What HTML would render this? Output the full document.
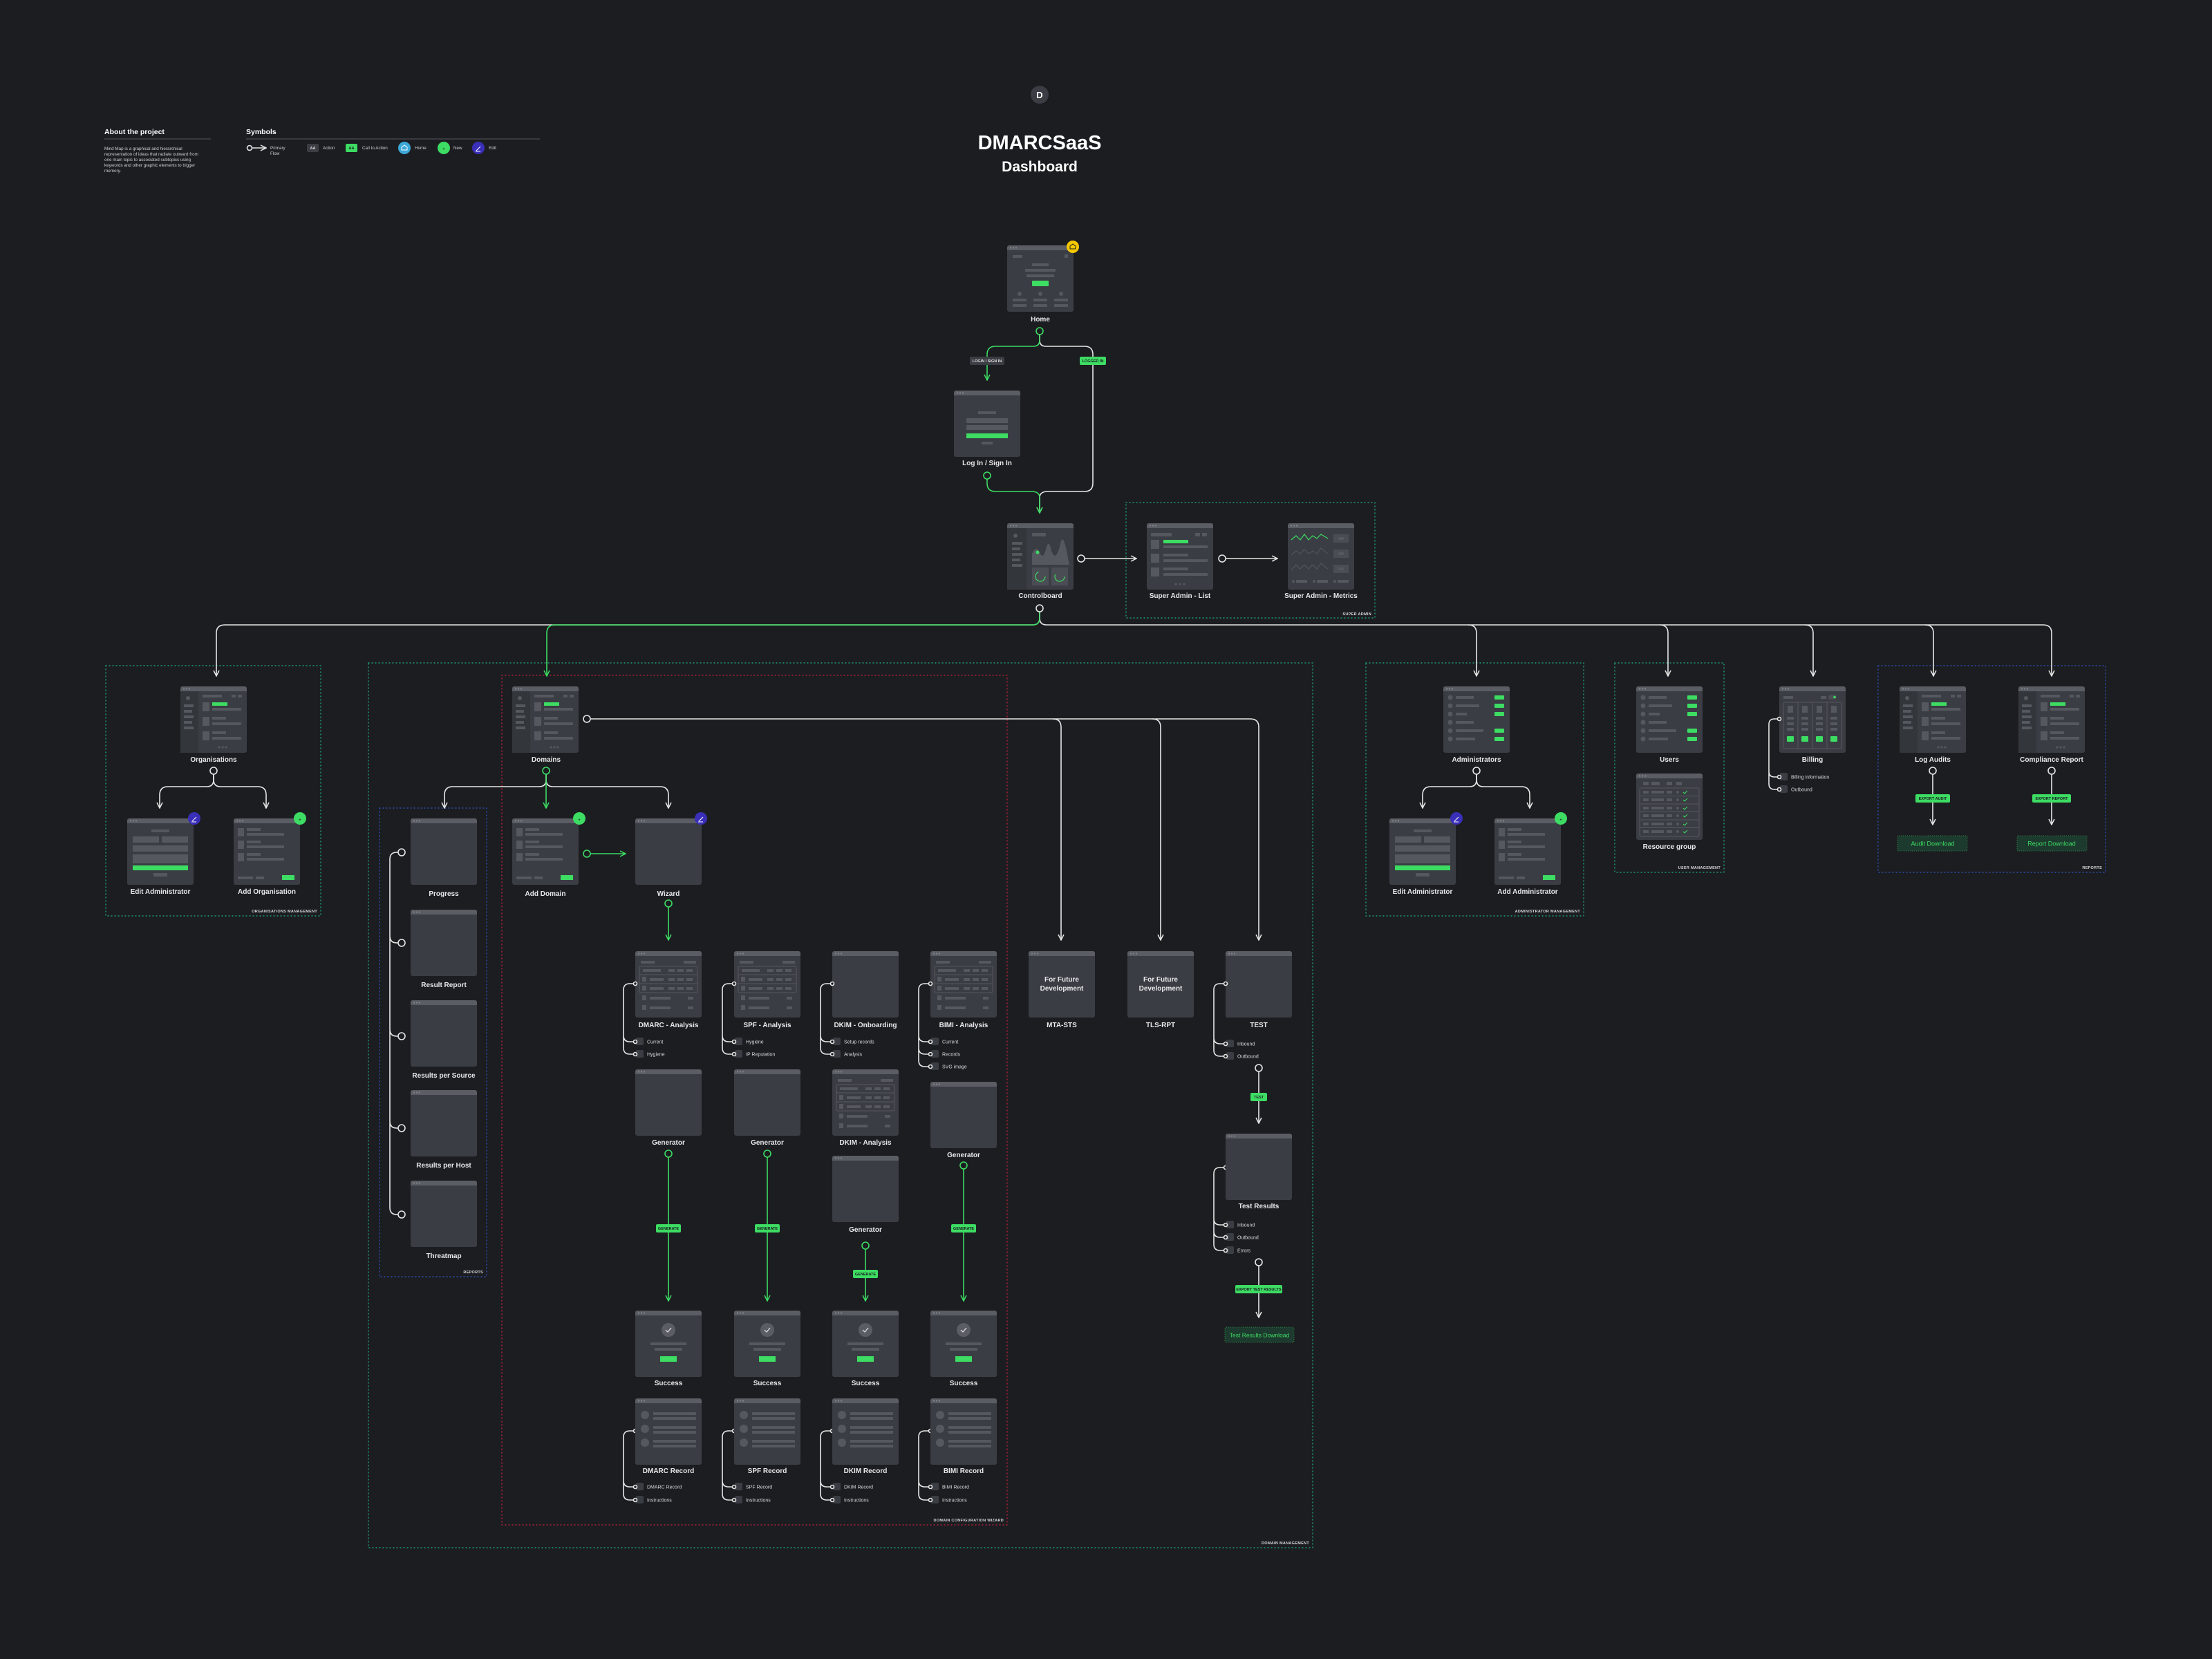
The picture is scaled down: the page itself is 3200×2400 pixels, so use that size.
<!DOCTYPE html>
<html><head><meta charset="utf-8"><style>
html,body{margin:0;padding:0;background:#1c1d21;}
svg{display:block;font-family:"Liberation Sans",sans-serif;}
.l{fill:#e8e8ea;font-size:10px;font-weight:bold;text-anchor:middle;}
.s{fill:#d8d8da;font-size:7px;}
.g{fill:#d8d8da;font-size:5.5px;font-weight:bold;text-anchor:end;letter-spacing:.3px;}
.c{font-size:5.5px;font-weight:bold;text-anchor:middle;}
.w{fill:none;stroke:#e6e6e6;stroke-width:1.6;}
.gr{fill:none;stroke:#3ddc63;stroke-width:1.6;}
.o{fill:#1c1d21;stroke:#e6e6e6;stroke-width:1.6;}
.og{fill:#1c1d21;stroke:#3ddc63;stroke-width:1.6;}
.d1{fill:none;stroke:#1f9a7a;stroke-width:1.4;stroke-dasharray:1 4;stroke-linecap:round;}
.d2{fill:none;stroke:#b0203a;stroke-width:1.4;stroke-dasharray:1 4;stroke-linecap:round;}
.d3{fill:none;stroke:#2b4fb0;stroke-width:1.4;stroke-dasharray:1 4;stroke-linecap:round;}
.b{fill:#55585e}.gg{fill:#3ddc63}.sq{fill:#3a3d43}
</style></head><body>
<svg width="3200" height="2400" viewBox="0 0 3200 2400" xmlns="http://www.w3.org/2000/svg">
<defs>
<marker id="aw" viewBox="0 0 10 10" refX="9" refY="5" markerWidth="10" markerHeight="10" markerUnits="userSpaceOnUse" orient="auto"><path d="M1,1 L9,5 L1,9" fill="none" stroke="#e6e6e6" stroke-width="1.5"/></marker>
<marker id="ag" viewBox="0 0 10 10" refX="9" refY="5" markerWidth="10" markerHeight="10" markerUnits="userSpaceOnUse" orient="auto"><path d="M1,1 L9,5 L1,9" fill="none" stroke="#3ddc63" stroke-width="1.5"/></marker>
<g id="win"><rect width="96" height="96" rx="3" fill="#3a3d43"/><path d="M0,3a3,3 0 0 1 3,-3h90a3,3 0 0 1 3,3v4h-96z" fill="#5a5d64"/><circle cx="5" cy="3.5" r="1.1" fill="#85888e"/><circle cx="9" cy="3.5" r="1.1" fill="#85888e"/><circle cx="13" cy="3.5" r="1.1" fill="#85888e"/></g>
<g id="side"><use href="#win"/><rect x="0" y="7" width="26" height="89" fill="#33363a"/><circle cx="11" cy="17" r="3" class="b"/><rect x="5" y="26" width="14" height="4" class="b"/><rect x="5" y="34" width="12" height="4" class="b"/><rect x="5" y="42" width="14" height="4" class="b"/><rect x="5" y="50" width="12" height="4" class="b"/><rect x="5" y="58" width="14" height="4" class="b"/><rect x="32" y="12" width="28" height="4" class="b"/><rect x="74" y="12" width="6" height="4" class="b"/><rect x="83" y="12" width="6" height="4" class="b"/><rect x="32" y="23" width="10" height="13" class="b"/><rect x="46" y="23" width="22" height="5" class="gg"/><rect x="46" y="31" width="42" height="4" class="b"/><rect x="32" y="44" width="10" height="13" class="b"/><rect x="46" y="44" width="20" height="4" class="b"/><rect x="46" y="52" width="42" height="4" class="b"/><rect x="32" y="65" width="10" height="13" class="b"/><rect x="46" y="65" width="20" height="4" class="b"/><rect x="46" y="73" width="42" height="4" class="b"/><circle cx="56" cy="88" r="1.6" class="b"/><circle cx="61" cy="88" r="1.6" class="b"/><circle cx="66" cy="88" r="1.6" class="b"/></g>
<g id="tbl"><use href="#win"/><rect x="8" y="14" width="20" height="4" class="b"/><rect x="70" y="14" width="18" height="4" class="b"/><rect x="6" y="22" width="84" height="38" rx="2" fill="none" stroke="#55585e"/><line x1="6" y1="34" x2="90" y2="34" stroke="#55585e"/><line x1="6" y1="47" x2="90" y2="47" stroke="#55585e"/><rect x="11" y="26" width="26" height="4" class="b"/><rect x="48" y="26" width="9" height="4" class="b"/><rect x="61" y="26" width="9" height="4" class="b"/><rect x="74" y="26" width="9" height="4" class="b"/><rect x="10" y="37" width="6" height="7" class="b"/><rect x="21" y="39" width="20" height="4" class="b"/><rect x="48" y="39" width="9" height="4" class="b"/><rect x="61" y="39" width="9" height="4" class="b"/><rect x="74" y="39" width="9" height="4" class="b"/><rect x="10" y="50" width="6" height="7" class="b"/><rect x="21" y="52" width="20" height="4" class="b"/><rect x="48" y="52" width="9" height="4" class="b"/><rect x="61" y="52" width="9" height="4" class="b"/><rect x="74" y="52" width="9" height="4" class="b"/><rect x="10" y="64" width="6" height="7" class="b"/><rect x="21" y="66" width="30" height="4" class="b"/><rect x="76" y="66" width="8" height="4" class="b"/><rect x="10" y="78" width="6" height="7" class="b"/><rect x="21" y="80" width="30" height="4" class="b"/><rect x="76" y="80" width="8" height="4" class="b"/></g>
<g id="list"><use href="#win"/><g class="b"><circle cx="10" cy="16" r="3.5"/><circle cx="10" cy="28" r="3.5"/><circle cx="10" cy="40" r="3.5"/><circle cx="10" cy="52" r="3.5"/><circle cx="10" cy="64" r="3.5"/><circle cx="10" cy="76" r="3.5"/><rect x="18" y="14" width="26" height="4"/><rect x="18" y="26" width="34" height="4"/><rect x="18" y="38" width="16" height="4"/><rect x="18" y="50" width="26" height="4"/><rect x="18" y="62" width="40" height="4"/><rect x="18" y="74" width="28" height="4"/></g><g class="gg"><rect x="74" y="13" width="14" height="6" rx="1"/><rect x="74" y="25" width="14" height="6" rx="1"/><rect x="74" y="37" width="14" height="6" rx="1"/><rect x="74" y="61" width="14" height="6" rx="1"/><rect x="74" y="73" width="14" height="6" rx="1"/></g></g>
<g id="form"><use href="#win"/><g class="b"><rect x="35" y="16" width="26" height="4"/><rect x="8" y="26" width="38" height="9"/><rect x="50" y="26" width="38" height="9"/><rect x="8" y="39" width="80" height="9"/><rect x="8" y="52" width="80" height="13"/><rect x="38" y="79" width="20" height="5"/></g><rect x="8" y="68" width="80" height="7" class="gg"/></g>
<g id="add"><use href="#win"/><g class="b"><rect x="6" y="14" width="9" height="12"/><rect x="19" y="14" width="20" height="4"/><rect x="19" y="21" width="54" height="4"/><rect x="6" y="32" width="9" height="12"/><rect x="19" y="32" width="20" height="4"/><rect x="19" y="39" width="54" height="4"/><rect x="6" y="50" width="9" height="12"/><rect x="19" y="50" width="20" height="4"/><rect x="19" y="57" width="54" height="4"/><rect x="6" y="84" width="22" height="4"/><rect x="32" y="84" width="12" height="4"/></g><rect x="70" y="82" width="18" height="7" class="gg"/></g>
<g id="succ"><use href="#win"/><circle cx="48" cy="28" r="10" fill="#5a5d64"/><path d="M44,28 l3,3 l5,-6" fill="none" stroke="#e6e6e6" stroke-width="1.2"/><rect x="22" y="46" width="52" height="4" class="b"/><rect x="28" y="54" width="40" height="4" class="b"/><rect x="36" y="66" width="24" height="8" class="gg"/></g>
<g id="rec"><use href="#win"/><g class="b"><circle cx="14" cy="24" r="6"/><rect x="26" y="20" width="62" height="4"/><rect x="26" y="27" width="62" height="4"/><circle cx="14" cy="44" r="6"/><rect x="26" y="40" width="62" height="4"/><rect x="26" y="47" width="62" height="4"/><circle cx="14" cy="64" r="6"/><rect x="26" y="60" width="62" height="4"/><rect x="26" y="67" width="62" height="4"/></g></g>
</defs>
<rect width="3200" height="2400" fill="#1c1d21"/>

<!-- header -->
<text x="151" y="194" fill="#fff" font-size="10.5" font-weight="bold">About the project</text>
<line x1="151" y1="201" x2="305" y2="201" stroke="#55585e"/>
<g fill="#cfcfd2" font-size="6.3"><text x="151" y="217">Mind Map is a graphical and hierarchical</text><text x="151" y="225">representation of ideas that radiate outward from</text><text x="151" y="233">one main topic to associated subtopics using</text><text x="151" y="241">keywords and other graphic elements to trigger</text><text x="151" y="249">memory.</text></g>
<text x="356" y="194" fill="#fff" font-size="10.5" font-weight="bold">Symbols</text>
<line x1="356" y1="201" x2="781" y2="201" stroke="#55585e"/>
<circle cx="361" cy="214" r="3.5" class="o"/><path d="M365,214 H385" class="w" marker-end="url(#aw)"/>
<text x="391" y="216" fill="#cfcfd2" font-size="6.3">Primary</text><text x="391" y="224" fill="#cfcfd2" font-size="6.3">Flow</text>
<rect x="444" y="208" width="17" height="12" rx="2" fill="#3a3d43"/><text x="452.5" y="216" class="c" fill="#ddd">AA</text><text x="467" y="216" fill="#cfcfd2" font-size="6.3">Action</text>
<rect x="500" y="208" width="17" height="12" rx="2" fill="#3ddc63"/><text x="508.5" y="216" class="c" fill="#1c1d21">AA</text><text x="524" y="216" fill="#cfcfd2" font-size="6.3">Call to Action</text>
<circle cx="585" cy="214" r="9" fill="#3ba8d8"/><path d="M581,217 v-4 l4,-3 l4,3 v4z" fill="none" stroke="#fff" stroke-width="1"/><text x="600" y="216" fill="#cfcfd2" font-size="6.3">Home</text>
<circle cx="642" cy="214" r="9" fill="#3ddc63"/><text x="642" y="217" class="c" fill="#1c1d21" font-size="9">+</text><text x="656" y="216" fill="#cfcfd2" font-size="6.3">New</text>
<circle cx="692" cy="214" r="9" fill="#3a2fb8"/><path d="M689,218 l6,-6 M688,219 h7" stroke="#fff" stroke-width="1"/><text x="707" y="216" fill="#cfcfd2" font-size="6.3">Edit</text>

<circle cx="1504" cy="137" r="13" fill="#3a3d43"/><text x="1504" y="142" fill="#fff" font-size="13" font-weight="bold" text-anchor="middle">D</text>
<text x="1504" y="216" fill="#fff" font-size="29" font-weight="bold" text-anchor="middle">DMARCSaaS</text>
<text x="1504" y="248" fill="#fff" font-size="21" font-weight="bold" text-anchor="middle">Dashboard</text>

<!-- dotted groups -->
<rect x="1629" y="727" width="360" height="167" class="d1"/><text x="1984" y="890" class="g">SUPER ADMIN</text>
<rect x="153" y="963" width="311" height="362" class="d1"/><text x="459" y="1320" class="g">ORGANISATIONS MANAGEMENT</text>
<rect x="533" y="959" width="1366" height="1280" class="d1"/><text x="1894" y="2234" class="g">DOMAIN MANAGEMENT</text>
<rect x="726" y="977" width="731" height="1229" class="d2"/><text x="1452" y="2201" class="g">DOMAIN CONFIGURATION WIZARD</text>
<rect x="549" y="1169" width="155" height="678" class="d3"/><text x="699" y="1842" class="g">REPORTS</text>
<rect x="1976" y="959" width="315" height="366" class="d1"/><text x="2286" y="1320" class="g">ADMINISTRATOR MANAGEMENT</text>
<rect x="2336" y="959" width="158" height="303" class="d1"/><text x="2489" y="1257" class="g">USER MANAGEMENT</text>
<rect x="2717" y="963" width="329" height="299" class="d3"/><text x="3041" y="1257" class="g">REPORTS</text>

<!-- connectors top -->
<path d="M1504,484 V492 Q1504,501 1513,501 H1569 Q1581,501 1581,513 V699 Q1581,711 1569,711 H1516 Q1504,711 1504,720 V742" class="w" marker-end="url(#aw)"/>
<path d="M1504,484 V492 Q1504,501 1495,501 H1440 Q1428,501 1428,513 V550" class="gr" marker-end="url(#ag)"/>
<path d="M1428,693 V699 Q1428,711 1440,711 H1492 Q1504,711 1504,720 V742" class="gr" marker-end="url(#ag)"/>
<circle cx="1504" cy="479" r="5" class="og"/><circle cx="1428" cy="688" r="5" class="og"/>
<rect x="1403" y="516" width="50" height="12" rx="2" fill="#3a3d43"/><text x="1428" y="524" class="c" fill="#ddd">LOGIN / SIGN IN</text>
<rect x="1562" y="516" width="38" height="12" rx="2" fill="#3ddc63"/><text x="1581" y="524" class="c" fill="#1c1d21">LOGGED IN</text>
<path d="M1569,808 H1644" class="w" marker-end="url(#aw)"/><circle cx="1564" cy="808" r="5" class="o"/>
<path d="M1773,808 H1848" class="w" marker-end="url(#aw)"/><circle cx="1768" cy="808" r="5" class="o"/>

<!-- bus -->
<path d="M1504,885 V894 Q1504,904 1494,904 H325 Q313,904 313,916 V978" class="w" marker-end="url(#aw)"/>
<path d="M1504,885 V894 Q1504,904 1514,904 H2956 Q2968,904 2968,916 V978" class="w" marker-end="url(#aw)"/>
<path d="M2124,904 Q2136,904 2136,916 V978" class="w" marker-end="url(#aw)"/>
<path d="M2401,904 Q2413,904 2413,916 V978" class="w" marker-end="url(#aw)"/>
<path d="M2611,904 Q2623,904 2623,916 V978" class="w" marker-end="url(#aw)"/>
<path d="M2785,904 Q2797,904 2797,916 V978" class="w" marker-end="url(#aw)"/>
<path d="M1504,885 V894 Q1504,904 1494,904 H803 Q791,904 791,916 V978" class="gr" marker-end="url(#ag)"/>
<circle cx="1504" cy="880" r="5" class="o"/>

<!-- tier 1 nodes -->
<use href="#win" x="1457" y="355"/>
<g transform="translate(1457,355)"><g class="b"><rect x="8" y="14" width="14" height="4"/><rect x="83" y="13" width="5" height="5"/><rect x="36" y="26" width="24" height="4"/><rect x="26" y="34" width="44" height="4"/><rect x="28" y="42" width="40" height="4"/><circle cx="18" cy="70" r="3"/><circle cx="48" cy="70" r="3"/><circle cx="78" cy="70" r="3"/><rect x="8" y="77" width="20" height="4"/><rect x="38" y="77" width="20" height="4"/><rect x="68" y="77" width="20" height="4"/><rect x="8" y="85" width="20" height="4"/><rect x="38" y="85" width="20" height="4"/><rect x="68" y="85" width="20" height="4"/></g><rect x="36" y="51" width="24" height="8" rx="1" class="gg"/></g>
<circle cx="1552" cy="357" r="9" fill="#f5c800"/><path d="M1548,360 v-4 l4,-3 l4,3 v4z" fill="none" stroke="#1c1d21" stroke-width="1"/>
<text x="1505" y="465" class="l">Home</text>
<use href="#win" x="1380" y="565"/>
<g transform="translate(1380,565)"><g class="b"><rect x="35" y="30" width="26" height="4"/><rect x="18" y="40" width="60" height="7"/><rect x="18" y="50" width="60" height="7"/><rect x="40" y="74" width="16" height="4"/></g><rect x="18" y="62" width="60" height="7" class="gg"/></g>
<text x="1428" y="673" class="l">Log In / Sign In</text>
<use href="#win" x="1457" y="757"/>
<g transform="translate(1457,757)"><rect x="0" y="7" width="28" height="89" fill="#33363a"/><g class="b"><circle cx="12" cy="18" r="3"/><rect x="7" y="27" width="15" height="4"/><rect x="7" y="35" width="12" height="4"/><rect x="7" y="43" width="15" height="4"/><rect x="7" y="51" width="12" height="4"/><rect x="7" y="59" width="15" height="4"/><rect x="36" y="14" width="20" height="5"/><path d="M36,60 L36,44 Q42,30 48,44 Q52,52 56,38 Q60,20 64,40 Q70,56 76,34 Q80,10 86,40 L90,60z"/></g><circle cx="44" cy="42" r="2.5" class="gg"/><rect x="36" y="64" width="24" height="26" fill="#4a4d53"/><rect x="64" y="64" width="24" height="26" fill="#4a4d53"/><circle cx="48" cy="77" r="7" fill="none" stroke="#3ddc63" stroke-width="1.2" stroke-dasharray="30 14"/><circle cx="76" cy="77" r="7" fill="none" stroke="#3ddc63" stroke-width="1.2" stroke-dasharray="25 19"/></g>
<text x="1505" y="865" class="l">Controlboard</text>
<use href="#win" x="1659" y="757"/>
<g transform="translate(1659,757)"><g class="b"><rect x="6" y="14" width="30" height="5"/><rect x="70" y="14" width="7" height="5"/><rect x="80" y="14" width="7" height="5"/><rect x="6" y="24" width="12" height="13"/><rect x="24" y="32" width="64" height="4"/><rect x="6" y="44" width="12" height="13"/><rect x="24" y="44" width="36" height="4"/><rect x="24" y="52" width="64" height="4"/><rect x="6" y="64" width="12" height="13"/><rect x="24" y="64" width="36" height="4"/><rect x="24" y="72" width="64" height="4"/><circle cx="42" cy="88" r="1.6"/><circle cx="48" cy="88" r="1.6"/><circle cx="54" cy="88" r="1.6"/></g><rect x="24" y="24" width="36" height="5" class="gg"/></g>
<text x="1707" y="865" class="l" font-weight="normal">Super Admin - List</text>
<use href="#win" x="1863" y="757"/>
<g transform="translate(1863,757)"><polyline points="5,24 12,18 18,24 24,16 30,24 36,18 42,22 48,16 58,22" fill="none" stroke="#3ddc63" stroke-width="1.2"/><polyline points="5,46 12,40 18,44 24,38 30,44 36,40 42,44 48,36 58,44" fill="none" stroke="#55585e" stroke-width="1"/><polyline points="5,68 12,60 18,66 24,60 30,66 36,60 42,66 48,58 58,66" fill="none" stroke="#55585e" stroke-width="1"/><rect x="66" y="16" width="22" height="12" fill="#4a4d53"/><rect x="66" y="38" width="22" height="12" fill="#4a4d53"/><rect x="66" y="60" width="22" height="12" fill="#4a4d53"/><g class="b"><rect x="73" y="20" width="8" height="4"/><rect x="73" y="42" width="8" height="4"/><rect x="73" y="64" width="8" height="4"/><circle cx="8" cy="84" r="2"/><rect x="12" y="82" width="16" height="4"/><circle cx="38" cy="84" r="2"/><rect x="42" y="82" width="16" height="4"/><circle cx="68" cy="84" r="2"/><rect x="72" y="82" width="16" height="4"/></g></g>
<text x="1911" y="865" class="l" font-weight="normal">Super Admin - Metrics</text>

<!-- tier 2 -->
<use href="#side" x="261" y="993"/><text x="309" y="1102" class="l" font-weight="normal">Organisations</text>
<use href="#side" x="741" y="993"/><text x="790" y="1102" class="l" font-weight="normal">Domains</text>
<use href="#list" x="2088" y="993"/><text x="2136" y="1102" class="l" font-weight="normal">Administrators</text>
<use href="#list" x="2367" y="993"/><text x="2415" y="1102" class="l" font-weight="normal">Users</text>
<use href="#win" x="2574" y="993"/>
<g transform="translate(2574,993)"><g class="b"><rect x="6" y="14" width="14" height="4"/><rect x="60" y="14" width="8" height="4"/></g><rect x="71" y="12" width="12" height="7" rx="3.5" fill="#4a4d53"/><circle cx="80" cy="15.5" r="1.8" class="gg"/><g fill="none" stroke="#55585e"><rect x="6" y="23" width="84" height="67" rx="2"/><line x1="27" y1="23" x2="27" y2="90"/><line x1="48" y1="23" x2="48" y2="90"/><line x1="69" y1="23" x2="69" y2="90"/></g><g class="b"><rect x="12" y="28" width="8" height="10"/><rect x="33" y="28" width="8" height="10"/><rect x="54" y="28" width="8" height="10"/><rect x="75" y="28" width="8" height="10"/><rect x="11" y="44" width="10" height="4"/><rect x="32" y="44" width="10" height="4"/><rect x="53" y="44" width="10" height="4"/><rect x="74" y="44" width="10" height="4"/><rect x="11" y="52" width="10" height="4"/><rect x="32" y="52" width="10" height="4"/><rect x="53" y="52" width="10" height="4"/><rect x="74" y="52" width="10" height="4"/><rect x="11" y="60" width="10" height="4"/><rect x="32" y="60" width="10" height="4"/><rect x="53" y="60" width="10" height="4"/><rect x="74" y="60" width="10" height="4"/></g><g class="gg"><rect x="11" y="72" width="10" height="8" rx="1"/><rect x="32" y="72" width="10" height="8" rx="1"/><rect x="53" y="72" width="10" height="8" rx="1"/><rect x="74" y="72" width="10" height="8" rx="1"/></g></g>
<text x="2622" y="1102" class="l" font-weight="normal">Billing</text>
<use href="#side" x="2748" y="993"/><text x="2796" y="1102" class="l" font-weight="normal">Log Audits</text>
<use href="#side" x="2920" y="993"/><text x="2968" y="1102" class="l" font-weight="normal">Compliance Report</text>
<use href="#win" x="2367" y="1119"/>
<g transform="translate(2367,1119)"><g class="b"><rect x="10" y="12" width="8" height="5"/><rect x="22" y="12" width="12" height="5"/><rect x="44" y="12" width="8" height="5"/><rect x="58" y="12" width="8" height="5"/></g><rect x="5" y="21" width="86" height="70" rx="2" fill="none" stroke="#55585e"/><g stroke="#55585e"><line x1="5" y1="32.5" x2="91" y2="32.5"/><line x1="5" y1="44" x2="91" y2="44"/><line x1="5" y1="55.5" x2="91" y2="55.5"/><line x1="5" y1="67" x2="91" y2="67"/><line x1="5" y1="78.5" x2="91" y2="78.5"/></g>
<g class="b"><rect x="10" y="25" width="8" height="4"/><rect x="22" y="25" width="18" height="4"/><rect x="44" y="25" width="8" height="4"/><circle cx="60" cy="27" r="2"/><rect x="10" y="36" width="8" height="4"/><rect x="22" y="36" width="18" height="4"/><rect x="44" y="36" width="8" height="4"/><circle cx="60" cy="38" r="2"/><rect x="10" y="48" width="8" height="4"/><rect x="22" y="48" width="18" height="4"/><rect x="44" y="48" width="8" height="4"/><circle cx="60" cy="50" r="2"/><rect x="10" y="59" width="8" height="4"/><rect x="22" y="59" width="18" height="4"/><rect x="44" y="59" width="8" height="4"/><circle cx="60" cy="61" r="2"/><rect x="10" y="71" width="8" height="4"/><rect x="22" y="71" width="18" height="4"/><rect x="44" y="71" width="8" height="4"/><circle cx="60" cy="73" r="2"/><rect x="10" y="82" width="8" height="4"/><rect x="22" y="82" width="18" height="4"/><rect x="44" y="82" width="8" height="4"/><circle cx="60" cy="84" r="2"/></g>
<g fill="none" stroke="#3ddc63" stroke-width="1"><path d="M68,27 l2,2 l4,-4"/><path d="M68,38 l2,2 l4,-4"/><path d="M68,50 l2,2 l4,-4"/><path d="M68,61 l2,2 l4,-4"/><path d="M68,73 l2,2 l4,-4"/><path d="M68,84 l2,2 l4,-4"/></g></g>
<text x="2415" y="1228" class="l" font-weight="normal">Resource group</text>

<!-- org / admin children -->
<path d="M309,1120 V1128 Q309,1138 299,1138 H243 Q231,1138 231,1150 V1169" class="w" marker-end="url(#aw)"/>
<path d="M309,1120 V1128 Q309,1138 319,1138 H373 Q385,1138 385,1150 V1169" class="w" marker-end="url(#aw)"/>
<circle cx="309" cy="1115" r="5" class="o"/>
<use href="#form" x="184" y="1184"/><text x="232" y="1293" class="l" font-weight="normal">Edit Administrator</text>
<use href="#add" x="338" y="1184"/><text x="386" y="1293" class="l" font-weight="normal">Add Organisation</text>
<circle cx="281" cy="1184" r="9" fill="#3a2fb8"/><path d="M278,1188 l6,-6 M277,1189 h7" stroke="#fff" stroke-width="1"/>
<circle cx="434" cy="1184" r="9" fill="#3ddc63"/><text x="434" y="1187.5" class="c" fill="#1c1d21" font-size="9">+</text>
<path d="M2136,1120 V1128 Q2136,1138 2126,1138 H2070 Q2058,1138 2058,1150 V1169" class="w" marker-end="url(#aw)"/>
<path d="M2136,1120 V1128 Q2136,1138 2146,1138 H2201 Q2213,1138 2213,1150 V1169" class="w" marker-end="url(#aw)"/>
<circle cx="2136" cy="1115" r="5" class="o"/>
<use href="#form" x="2010" y="1184"/><text x="2058" y="1293" class="l" font-weight="normal">Edit Administrator</text>
<use href="#add" x="2162" y="1184"/><text x="2210" y="1293" class="l" font-weight="normal">Add Administrator</text>
<circle cx="2107" cy="1184" r="9" fill="#3a2fb8"/><path d="M2104,1188 l6,-6 M2103,1189 h7" stroke="#fff" stroke-width="1"/>
<circle cx="2258" cy="1184" r="9" fill="#3ddc63"/><text x="2258" y="1187.5" class="c" fill="#1c1d21" font-size="9">+</text>

<!-- billing subs -->
<path d="M2574,1040 H2567 Q2559,1040 2559,1048 V1134 Q2559,1142 2567,1142 H2574 M2559,1116 Q2559,1124 2567,1124 H2574" class="w" stroke-width="1.3"/>
<rect x="2575" y="1118" width="11" height="11" rx="2" class="sq"/><rect x="2575" y="1136" width="11" height="11" rx="2" class="sq"/>
<circle cx="2574" cy="1040" r="2.5" class="o"/><circle cx="2574" cy="1124" r="2.5" class="o"/><circle cx="2574" cy="1142" r="2.5" class="o"/>
<text x="2591" y="1126.5" class="s">Billing information</text><text x="2591" y="1144.5" class="s">Outbound</text>

<!-- exports -->
<path d="M2796,1120 V1193" class="w" marker-end="url(#aw)"/><circle cx="2796" cy="1115" r="5" class="o"/>
<rect x="2771" y="1149" width="50" height="12" rx="2" fill="#3ddc63"/><text x="2796" y="1157" class="c" fill="#1c1d21">EXPORT AUDIT</text>
<rect x="2745" y="1209" width="101" height="22" rx="2" fill="#1d3a2e" stroke="#2e8a4a" stroke-dasharray="1 2"/><text x="2796" y="1223.5" fill="#3ddc63" font-size="9" text-anchor="middle">Audit Download</text>
<path d="M2968,1120 V1193" class="w" marker-end="url(#aw)"/><circle cx="2968" cy="1115" r="5" class="o"/>
<rect x="2940" y="1149" width="56" height="12" rx="2" fill="#3ddc63"/><text x="2968" y="1157" class="c" fill="#1c1d21">EXPORT REPORT</text>
<rect x="2918" y="1209" width="101" height="22" rx="2" fill="#1d3a2e" stroke="#2e8a4a" stroke-dasharray="1 2"/><text x="2968" y="1223.5" fill="#3ddc63" font-size="9" text-anchor="middle">Report Download</text>

<!-- domain children -->
<path d="M790,1120 V1128 Q790,1138 780,1138 H655 Q643,1138 643,1150 V1169" class="w" marker-end="url(#aw)"/>
<path d="M790,1120 V1128 Q790,1138 800,1138 H955 Q967,1138 967,1150 V1169" class="w" marker-end="url(#aw)"/>
<path d="M790,1120 V1169" class="gr" marker-end="url(#ag)"/>
<circle cx="790" cy="1115" r="5" class="og"/>
<path d="M854,1040 H1523 Q1535,1040 1535,1052 V1360" class="w" marker-end="url(#aw)"/>
<path d="M1523,1040 H1667 Q1679,1040 1679,1052 V1360" class="w" marker-end="url(#aw)"/>
<path d="M1667,1040 H1809 Q1821,1040 1821,1052 V1360" class="w" marker-end="url(#aw)"/>
<circle cx="849" cy="1040" r="5" class="o"/>

<use href="#win" x="594" y="1184"/><text x="642" y="1296" class="l">Progress</text>
<use href="#add" x="741" y="1184"/><text x="789" y="1296" class="l" font-weight="normal">Add Domain</text>
<circle cx="838" cy="1184" r="9" fill="#3ddc63"/><text x="838" y="1187.5" class="c" fill="#1c1d21" font-size="9">+</text>
<use href="#win" x="919" y="1184"/><text x="967" y="1296" class="l" font-weight="normal">Wizard</text>
<circle cx="1014" cy="1184" r="9" fill="#3a2fb8"/><path d="M1011,1188 l6,-6 M1010,1189 h7" stroke="#fff" stroke-width="1"/>
<path d="M854,1235 H905" class="gr" marker-end="url(#ag)"/><circle cx="849" cy="1235" r="5" class="og"/>
<path d="M967,1312 V1360" class="gr" marker-end="url(#ag)"/><circle cx="967" cy="1307" r="5" class="og"/>

<!-- reports column -->
<path d="M576,1233 H574 Q564,1233 564,1243 V1747 Q564,1757 574,1757 H576 M564,1354 Q564,1364 574,1364 H576 M564,1489 Q564,1499 574,1499 H576 M564,1622 Q564,1632 574,1632 H576" class="w"/>
<circle cx="581" cy="1233" r="5" class="o"/><circle cx="581" cy="1364" r="5" class="o"/><circle cx="581" cy="1499" r="5" class="o"/><circle cx="581" cy="1632" r="5" class="o"/><circle cx="581" cy="1757" r="5" class="o"/>
<use href="#win" x="594" y="1316"/><text x="642" y="1428" class="l">Result Report</text>
<use href="#win" x="594" y="1447"/><text x="642" y="1559" class="l">Results per Source</text>
<use href="#win" x="594" y="1577"/><text x="642" y="1689" class="l">Results per Host</text>
<use href="#win" x="594" y="1708"/><text x="642" y="1820" class="l">Threatmap</text>

<!-- row 3 -->
<use href="#tbl" x="919" y="1376"/><text x="967" y="1486" class="l">DMARC - Analysis</text>
<use href="#tbl" x="1062" y="1376"/><text x="1110" y="1486" class="l">SPF - Analysis</text>
<use href="#win" x="1204" y="1376"/><text x="1252" y="1486" class="l">DKIM - Onboarding</text>
<use href="#tbl" x="1346" y="1376"/><text x="1394" y="1486" class="l">BIMI - Analysis</text>
<use href="#win" x="1488" y="1376"/><text x="1536" y="1420" class="l">For Future</text><text x="1536" y="1433" class="l">Development</text><text x="1536" y="1486" class="l">MTA-STS</text>
<use href="#win" x="1631" y="1376"/><text x="1679" y="1420" class="l">For Future</text><text x="1679" y="1433" class="l">Development</text><text x="1679" y="1486" class="l">TLS-RPT</text>
<use href="#win" x="1773" y="1376"/><text x="1821" y="1486" class="l">TEST</text>

<g class="w" stroke-width="1.3">
<path d="M919,1423 H911 Q902,1423 902,1432 V1516 Q902,1525 911,1525 H919 M902,1498 Q902,1507 911,1507 H919"/>
<path d="M1062,1423 H1054 Q1045,1423 1045,1432 V1516 Q1045,1525 1054,1525 H1062 M1045,1498 Q1045,1507 1054,1507 H1062"/>
<path d="M1204,1423 H1196 Q1187,1423 1187,1432 V1516 Q1187,1525 1196,1525 H1204 M1187,1498 Q1187,1507 1196,1507 H1204"/>
<path d="M1346,1423 H1338 Q1329,1423 1329,1432 V1534 Q1329,1543 1338,1543 H1346 M1329,1498 Q1329,1507 1338,1507 H1346 M1329,1516 Q1329,1525 1338,1525 H1346"/>
<path d="M1773,1423 H1765 Q1756,1423 1756,1432 V1519 Q1756,1528 1765,1528 H1773 M1756,1501 Q1756,1510 1765,1510 H1773"/>
<path d="M1773,1689 H1765 Q1756,1689 1756,1698 V1800 Q1756,1809 1765,1809 H1773 M1756,1763 Q1756,1772 1765,1772 H1773 M1756,1781 Q1756,1790 1765,1790 H1773"/>
<path d="M919,2070 H911 Q902,2070 902,2079 V2161 Q902,2170 911,2170 H919 M902,2142 Q902,2151 911,2151 H919"/>
<path d="M1062,2070 H1054 Q1045,2070 1045,2079 V2161 Q1045,2170 1054,2170 H1062 M1045,2142 Q1045,2151 1054,2151 H1062"/>
<path d="M1204,2070 H1196 Q1187,2070 1187,2079 V2161 Q1187,2170 1196,2170 H1204 M1187,2142 Q1187,2151 1196,2151 H1204"/>
<path d="M1346,2070 H1338 Q1329,2070 1329,2079 V2161 Q1329,2170 1338,2170 H1346 M1329,2142 Q1329,2151 1338,2151 H1346"/>
</g>
<g class="sq">
<rect x="920" y="1501" width="11" height="11" rx="2"/><rect x="920" y="1519" width="11" height="11" rx="2"/>
<rect x="1063" y="1501" width="11" height="11" rx="2"/><rect x="1063" y="1519" width="11" height="11" rx="2"/>
<rect x="1205" y="1501" width="11" height="11" rx="2"/><rect x="1205" y="1519" width="11" height="11" rx="2"/>
<rect x="1347" y="1501" width="11" height="11" rx="2"/><rect x="1347" y="1519" width="11" height="11" rx="2"/><rect x="1347" y="1537" width="11" height="11" rx="2"/>
<rect x="1774" y="1504" width="11" height="11" rx="2"/><rect x="1774" y="1522" width="11" height="11" rx="2"/>
<rect x="1774" y="1766" width="11" height="11" rx="2"/><rect x="1774" y="1784" width="11" height="11" rx="2"/><rect x="1774" y="1803" width="11" height="11" rx="2"/>
<rect x="920" y="2145" width="11" height="11" rx="2"/><rect x="920" y="2164" width="11" height="11" rx="2"/>
<rect x="1063" y="2145" width="11" height="11" rx="2"/><rect x="1063" y="2164" width="11" height="11" rx="2"/>
<rect x="1205" y="2145" width="11" height="11" rx="2"/><rect x="1205" y="2164" width="11" height="11" rx="2"/>
<rect x="1347" y="2145" width="11" height="11" rx="2"/><rect x="1347" y="2164" width="11" height="11" rx="2"/>
</g>
<g class="o" stroke-width="1.3">
<circle cx="919" cy="1423" r="2.5"/><circle cx="919" cy="1507" r="2.5"/><circle cx="919" cy="1525" r="2.5"/>
<circle cx="1062" cy="1423" r="2.5"/><circle cx="1062" cy="1507" r="2.5"/><circle cx="1062" cy="1525" r="2.5"/>
<circle cx="1204" cy="1423" r="2.5"/><circle cx="1204" cy="1507" r="2.5"/><circle cx="1204" cy="1525" r="2.5"/>
<circle cx="1346" cy="1423" r="2.5"/><circle cx="1346" cy="1507" r="2.5"/><circle cx="1346" cy="1525" r="2.5"/><circle cx="1346" cy="1543" r="2.5"/>
<circle cx="1773" cy="1423" r="2.5"/><circle cx="1773" cy="1510" r="2.5"/><circle cx="1773" cy="1528" r="2.5"/>
<circle cx="1773" cy="1689" r="2.5"/><circle cx="1773" cy="1772" r="2.5"/><circle cx="1773" cy="1790" r="2.5"/><circle cx="1773" cy="1809" r="2.5"/>
<circle cx="919" cy="2070" r="2.5"/><circle cx="919" cy="2151" r="2.5"/><circle cx="919" cy="2170" r="2.5"/>
<circle cx="1062" cy="2070" r="2.5"/><circle cx="1062" cy="2151" r="2.5"/><circle cx="1062" cy="2170" r="2.5"/>
<circle cx="1204" cy="2070" r="2.5"/><circle cx="1204" cy="2151" r="2.5"/><circle cx="1204" cy="2170" r="2.5"/>
<circle cx="1346" cy="2070" r="2.5"/><circle cx="1346" cy="2151" r="2.5"/><circle cx="1346" cy="2170" r="2.5"/>
</g>
<text x="936" y="1509.5" class="s">Current</text><text x="936" y="1527.5" class="s">Hygiene</text>
<text x="1079" y="1509.5" class="s">Hygiene</text><text x="1079" y="1527.5" class="s">IP Reputation</text>
<text x="1221" y="1509.5" class="s">Setup records</text><text x="1221" y="1527.5" class="s">Analysis</text>
<text x="1363" y="1509.5" class="s">Current</text><text x="1363" y="1527.5" class="s">Records</text><text x="1363" y="1545.5" class="s">SVG image</text>
<text x="1790" y="1512.5" class="s">Inbound</text><text x="1790" y="1530.5" class="s">Outbound</text>
<text x="1790" y="1774.5" class="s">Inbound</text><text x="1790" y="1792.5" class="s">Outbound</text><text x="1790" y="1811.5" class="s">Errors</text>
<text x="936" y="2153.5" class="s">DMARC Record</text><text x="936" y="2172.5" class="s">Instructions</text>
<text x="1079" y="2153.5" class="s">SPF Record</text><text x="1079" y="2172.5" class="s">Instructions</text>
<text x="1221" y="2153.5" class="s">DKIM Record</text><text x="1221" y="2172.5" class="s">Instructions</text>
<text x="1363" y="2153.5" class="s">BIMI Record</text><text x="1363" y="2172.5" class="s">Instructions</text>

<!-- row 4 -->
<use href="#win" x="919" y="1547"/><text x="967" y="1656" class="l">Generator</text>
<use href="#win" x="1062" y="1547"/><text x="1110" y="1656" class="l">Generator</text>
<use href="#tbl" x="1204" y="1547"/><text x="1252" y="1656" class="l">DKIM - Analysis</text>
<use href="#win" x="1346" y="1565"/><text x="1394" y="1674" class="l">Generator</text>
<use href="#win" x="1204" y="1672"/><text x="1252" y="1782" class="l">Generator</text>

<path d="M967,1674 V1882" class="gr" marker-end="url(#ag)"/><circle cx="967" cy="1669" r="5" class="og"/>
<path d="M1110,1674 V1882" class="gr" marker-end="url(#ag)"/><circle cx="1110" cy="1669" r="5" class="og"/>
<path d="M1394,1691 V1882" class="gr" marker-end="url(#ag)"/><circle cx="1394" cy="1686" r="5" class="og"/>
<path d="M1252,1807 V1882" class="gr" marker-end="url(#ag)"/><circle cx="1252" cy="1802" r="5" class="og"/>
<rect x="949" y="1771" width="36" height="12" rx="2" fill="#3ddc63"/><text x="967" y="1779" class="c" fill="#1c1d21">GENERATE</text>
<rect x="1092" y="1771" width="36" height="12" rx="2" fill="#3ddc63"/><text x="1110" y="1779" class="c" fill="#1c1d21">GENERATE</text>
<rect x="1376" y="1771" width="36" height="12" rx="2" fill="#3ddc63"/><text x="1394" y="1779" class="c" fill="#1c1d21">GENERATE</text>
<rect x="1234" y="1837" width="36" height="12" rx="2" fill="#3ddc63"/><text x="1252" y="1845" class="c" fill="#1c1d21">GENERATE</text>

<use href="#succ" x="919" y="1896"/><text x="967" y="2004" class="l">Success</text>
<use href="#succ" x="1062" y="1896"/><text x="1110" y="2004" class="l">Success</text>
<use href="#succ" x="1204" y="1896"/><text x="1252" y="2004" class="l">Success</text>
<use href="#succ" x="1346" y="1896"/><text x="1394" y="2004" class="l">Success</text>
<use href="#rec" x="919" y="2023"/><text x="967" y="2131" class="l">DMARC Record</text>
<use href="#rec" x="1062" y="2023"/><text x="1110" y="2131" class="l">SPF Record</text>
<use href="#rec" x="1204" y="2023"/><text x="1252" y="2131" class="l">DKIM Record</text>
<use href="#rec" x="1346" y="2023"/><text x="1394" y="2131" class="l">BIMI Record</text>

<!-- test -->
<path d="M1821,1550 V1625" class="w" marker-end="url(#aw)"/><circle cx="1821" cy="1545" r="5" class="o"/>
<rect x="1809" y="1581" width="24" height="12" rx="2" fill="#3ddc63"/><text x="1821" y="1589" class="c" fill="#1c1d21">TEST</text>
<use href="#win" x="1773" y="1640"/><text x="1821" y="1748" class="l">Test Results</text>
<path d="M1821,1831 V1906" class="w" marker-end="url(#aw)"/><circle cx="1821" cy="1826" r="5" class="o"/>
<rect x="1787" y="1859" width="68" height="12" rx="2" fill="#3ddc63"/><text x="1821" y="1867" class="c" fill="#1c1d21">EXPORT TEST RESULTS</text>
<rect x="1772" y="1920" width="100" height="22" rx="2" fill="#1d3a2e" stroke="#2e8a4a" stroke-dasharray="1 2"/><text x="1822" y="1934.5" fill="#3ddc63" font-size="8.5" text-anchor="middle">Test Results Download</text>
</svg>
</body></html>
